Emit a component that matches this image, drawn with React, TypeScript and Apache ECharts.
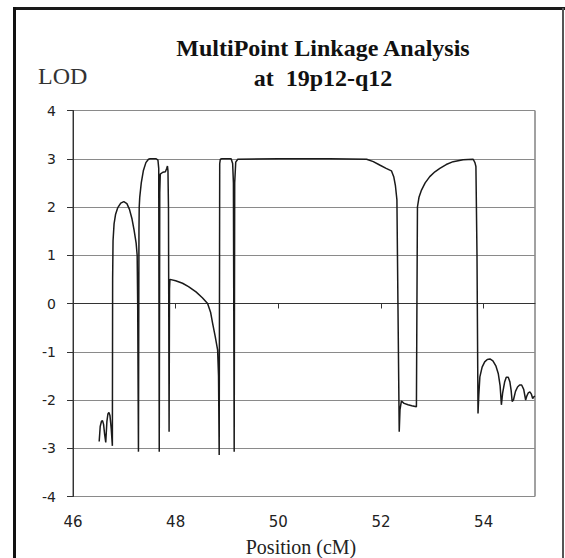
import React, { useEffect, useRef } from "react";
import * as echarts from "echarts";

const titleLines = ["MultiPoint Linkage Analysis", "at  19p12-q12"];
const yAxisName = "LOD";
const xAxisName = "Position (cM)";

const positions = [
  46.51, 46.53, 46.555, 46.575, 46.595, 46.615, 46.638,
  46.66, 46.68, 46.70, 46.72, 46.745, 46.767,
  46.772, 46.78, 46.80, 46.83, 46.87, 46.93, 46.99, 47.05, 47.10, 47.15, 47.19, 47.23, 47.25, 47.26, 47.275,
  47.285, 47.29, 47.30, 47.33, 47.37, 47.42, 47.47, 47.50, 47.62, 47.655, 47.67, 47.68,
  47.69, 47.70, 47.75, 47.80, 47.825, 47.84, 47.85, 47.86, 47.872,
  47.88, 47.888, 48.0, 48.134, 48.25, 48.396, 48.52, 48.622, 48.68, 48.72, 48.77, 48.817, 48.835, 48.848,
  48.858, 48.87, 48.9, 49.08, 49.11, 49.125, 49.14,
  49.15, 49.17, 49.21, 50.0, 51.0, 51.72, 51.85, 51.974, 52.1, 52.203, 52.25, 52.28, 52.31, 52.33, 52.355,
  52.37, 52.398, 52.45, 52.527, 52.6, 52.69,
  52.70, 52.71, 52.74, 52.789, 52.86, 52.95, 53.05, 53.146, 53.27, 53.405, 53.6, 53.796, 53.83, 53.849, 53.87, 53.89,
  53.905, 53.926, 53.97, 54.02, 54.07, 54.122, 54.18, 54.24, 54.284, 54.32, 54.345,
  54.37, 54.41, 54.44, 54.479, 54.51, 54.535, 54.555,
  54.58, 54.62, 54.66, 54.70, 54.74, 54.78, 54.818,
  54.84, 54.87, 54.90, 54.93, 54.955, 54.98, 55.0,
];

const lod = [
  -2.86, -2.55, -2.44, -2.43, -2.5, -2.7, -2.88,
  -2.45, -2.29, -2.26, -2.32, -2.6, -2.95,
  0.5, 1.3, 1.65, 1.85, 1.98, 2.08, 2.11, 2.07, 1.95, 1.75, 1.52, 1.25, 1.0, 0.0, -3.07,
  1.5, 2.0, 2.2, 2.5, 2.75, 2.92, 2.99, 3.0, 3.0, 2.97, 2.8, -3.07,
  2.3, 2.68, 2.72, 2.73, 2.8, 2.85, 2.75, 2.0, -2.66,
  0.3, 0.5, 0.47, 0.42, 0.35, 0.24, 0.12, 0.0, -0.18, -0.41, -0.68, -0.96, -1.5, -3.14,
  2.9, 2.99, 3.0, 3.0, 2.9, 2.5, -3.07,
  2.5, 2.93, 2.99, 3.0, 3.0, 2.99, 2.94, 2.87, 2.8, 2.75, 2.62, 2.45, 2.15, 0.0, -2.66,
  -2.2, -2.02, -2.07, -2.1, -2.12, -2.14,
  0.0, 2.0, 2.2, 2.35, 2.5, 2.63, 2.73, 2.8, 2.88, 2.94, 2.98, 2.99, 2.92, 2.84, 1.0, -2.28,
  -1.9, -1.52, -1.32, -1.21, -1.16, -1.15, -1.19, -1.3, -1.45, -1.7, -2.1,
  -1.85, -1.62, -1.53, -1.53, -1.62, -1.8, -2.03,
  -2.0, -1.82, -1.73, -1.69, -1.69, -1.78, -2.0,
  -1.92, -1.85, -1.83, -1.88, -1.97, -1.93, -1.92,
];

const xMin = 46;
const xMax = 55;
const xStep = 2;
const yMin = -4;
const yMax = 4;
const yStep = 1;

export default function App() {
  const ref = useRef<HTMLDivElement>(null);

  useEffect(() => {
    if (!ref.current) return;
    const chart = echarts.init(ref.current, null, { renderer: "svg" });
    const data = positions.map((p, i) => [p, lod[i]]);
    chart.setOption({
      animation: false,
      backgroundColor: "#ffffff",
      title: {
        text: titleLines.join("\n"),
        left: 318,
        textAlign: "center",
        top: 28,
        textStyle: {
          fontFamily: "Liberation Serif",
          fontWeight: "bold",
          fontSize: 24,
          lineHeight: 30,
          color: "#111",
        },
      },
      graphic: [
        { type: "rect", shape: { x: 13, y: 7, width: 552, height: 3 }, style: { fill: "#1a1a1a" } },
        { type: "rect", shape: { x: 13, y: 7, width: 3, height: 560 }, style: { fill: "#111" } },
        { type: "rect", shape: { x: 562, y: 8, width: 2, height: 560 }, style: { fill: "#555" } },
        {
          type: "text",
          x: 38,
          y: 64,
          style: { text: yAxisName, fontFamily: "Liberation Serif", fontSize: 24, fill: "#333" },
        },
        {
          type: "text",
          x: 301,
          y: 537,
          style: {
            text: xAxisName,
            fontFamily: "Liberation Serif",
            fontSize: 20,
            fill: "#222",
            align: "center",
          },
        },
      ],
      grid: {
        left: 73,
        right: 30,
        top: 110.5,
        bottom: 61.5,
        show: true,
        borderColor: "#444",
        borderWidth: 1,
        backgroundColor: "transparent",
      },
      xAxis: {
        type: "value",
        min: xMin,
        max: xMax,
        interval: xStep,
        axisLine: { show: true, lineStyle: { color: "#333", width: 1 } },
        axisTick: { show: true, inside: false, length: 5, lineStyle: { color: "#333" } },
        axisLabel: {
          margin: 18,
          fontFamily: "DejaVu Sans",
          fontSize: 15,
          color: "#222",
          showMaxLabel: false,
        },
        splitLine: { show: false },
      },
      yAxis: {
        type: "value",
        min: yMin,
        max: yMax,
        interval: yStep,
        axisLine: { show: true, lineStyle: { color: "#333", width: 1 } },
        axisTick: { show: true, inside: false, length: 6, lineStyle: { color: "#333" } },
        axisLabel: {
          margin: 17,
          fontFamily: "DejaVu Sans",
          fontSize: 14,
          color: "#222",
        },
        splitLine: { show: true, lineStyle: { color: "#8a8a8a", width: 1.2 } },
      },
      series: [
        {
          type: "line",
          data,
          showSymbol: false,
          symbol: "none",
          smooth: false,
          lineStyle: { color: "#1a1a1a", width: 1.5 },
        },
      ],
    });
    return () => chart.dispose();
  }, []);

  return (
    <div
      ref={ref}
      style={{ position: "fixed", left: 0, top: 0, width: 565, height: 558 }}
    />
  );
}
